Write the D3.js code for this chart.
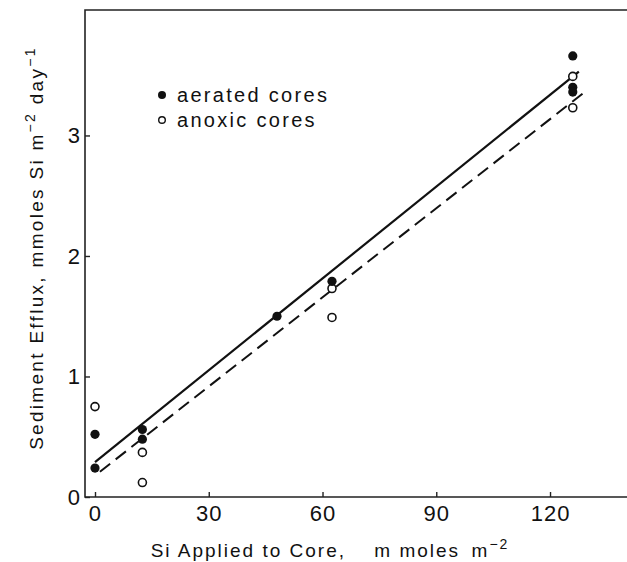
<!DOCTYPE html>
<html>
<head>
<meta charset="utf-8">
<script src="https://cdn.jsdelivr.net/npm/d3@7"></script>
<style>
  html, body { margin: 0; padding: 0; background: #fff; }
  svg { display: block; }
  text { font-family: "Liberation Sans", Arial, sans-serif; fill: #111; }
</style>
</head>
<body>
<svg id="chart" width="627" height="562"></svg>
<script>
// Si applied (mmol m^-2) and sediment efflux (mmol Si m^-2 day^-1)
const aeratedX = [0, 0, 12.5, 12.5, 48, 62.5, 126, 126, 126];
const aeratedY = [0.52, 0.24, 0.56, 0.48, 1.50, 1.79, 3.66, 3.40, 3.36];
const anoxicX  = [0, 12.5, 12.5, 62.5, 62.5, 126, 126];
const anoxicY  = [0.75, 0.37, 0.12, 1.73, 1.49, 3.49, 3.23];

// fitted lines, drawn between their end points
const aeratedFitX = [0, 127.6];
const aeratedFitY = [0.29, 3.53];
const anoxicFitX  = [1.3, 128.7];
const anoxicFitY  = [0.21, 3.35];

const xTicks = [0, 30, 60, 90, 120];
const yTicks = [0, 1, 2, 3];
const legendLabels = ["aerated cores", "anoxic cores"];

const svg = d3.select("#chart");
const plotLeft = 85, plotRight = 627, plotTop = 10, plotBottom = 497;

const x = d3.scaleLinear().domain([-2.637, 140.3]).range([plotLeft, plotRight]);
const y = d3.scaleLinear().domain([0, 4.041]).range([plotBottom, plotTop]);

// frame: left, top and bottom edges
svg.append("path")
  .attr("d", `M${plotRight},${plotTop}H${plotLeft}V${plotBottom}H${plotRight}`)
  .attr("fill", "none").attr("stroke", "#222").attr("stroke-width", 1.6);

// x axis, ticks pointing into the plot
const xAxis = svg.append("g").attr("transform", `translate(0,${plotBottom})`)
  .call(d3.axisBottom(x).tickValues(xTicks).tickFormat(d3.format("d"))
    .tickSizeInner(-5).tickSizeOuter(0).tickPadding(8));
xAxis.select(".domain").remove();
xAxis.selectAll("line").attr("stroke", "#222").attr("stroke-width", 1.4);
xAxis.selectAll("text").attr("font-size", 22).attr("letter-spacing", 1)
  .attr("dy", "0.71em").attr("fill", "#111");

const yAxis = svg.append("g").attr("transform", `translate(${plotLeft},0)`)
  .call(d3.axisLeft(y).tickValues(yTicks).tickFormat(d3.format("d"))
    .tickSizeInner(-5).tickSizeOuter(0).tickPadding(5));
yAxis.select(".domain").remove();
yAxis.selectAll("line").attr("stroke", "#222").attr("stroke-width", 1.4);
yAxis.selectAll("text").attr("font-size", 22).attr("fill", "#111");

// fit lines
const line = d3.line().x(d => x(d[0])).y(d => y(d[1]));
svg.append("path").datum(d3.zip(aeratedFitX, aeratedFitY))
  .attr("d", line).attr("fill", "none").attr("stroke", "#111").attr("stroke-width", 2.2);
svg.append("path").datum(d3.zip(anoxicFitX, anoxicFitY))
  .attr("d", line).attr("fill", "none").attr("stroke", "#111").attr("stroke-width", 2)
  .attr("stroke-dasharray", "13,7");

// points
svg.append("g").selectAll("circle").data(d3.zip(anoxicX, anoxicY)).join("circle")
  .attr("cx", d => x(d[0])).attr("cy", d => y(d[1])).attr("r", 4)
  .attr("fill", "#fff").attr("stroke", "#111").attr("stroke-width", 1.6);
svg.append("g").selectAll("circle").data(d3.zip(aeratedX, aeratedY)).join("circle")
  .attr("cx", d => x(d[0])).attr("cy", d => y(d[1])).attr("r", 4.6)
  .attr("fill", "#111");

// legend
const lg = svg.append("g");
lg.append("circle").attr("cx", 162).attr("cy", 95).attr("r", 4).attr("fill", "#111");
lg.append("circle").attr("cx", 162).attr("cy", 120).attr("r", 3.3)
  .attr("fill", "#fff").attr("stroke", "#111").attr("stroke-width", 1.4);
lg.selectAll("text").data(legendLabels).join("text")
  .attr("x", 177).attr("y", (d, i) => 102 + i * 25)
  .attr("font-size", 20).attr("letter-spacing", 2.3).text(d => d);

// axis titles
const xt = svg.append("text").attr("x", 330).attr("y", 557)
  .attr("text-anchor", "middle").attr("font-size", 19).attr("letter-spacing", 2);
xt.append("tspan").text("Si Applied to Core,\u2003 m moles\u2002m");
xt.append("tspan").attr("dy", -8).attr("font-size", 14).text("\u22122");

const yt = svg.append("text")
  .attr("transform", "translate(43,248) rotate(-90)")
  .attr("text-anchor", "middle").attr("font-size", 19).attr("letter-spacing", 2.3);
yt.append("tspan").text("Sediment Efflux, mmoles Si m");
yt.append("tspan").attr("dy", -8).attr("font-size", 14).text("\u22122");
yt.append("tspan").attr("dy", 8).text(" day");
yt.append("tspan").attr("dy", -8).attr("font-size", 14).text("\u22121");
</script>
</body>
</html>
